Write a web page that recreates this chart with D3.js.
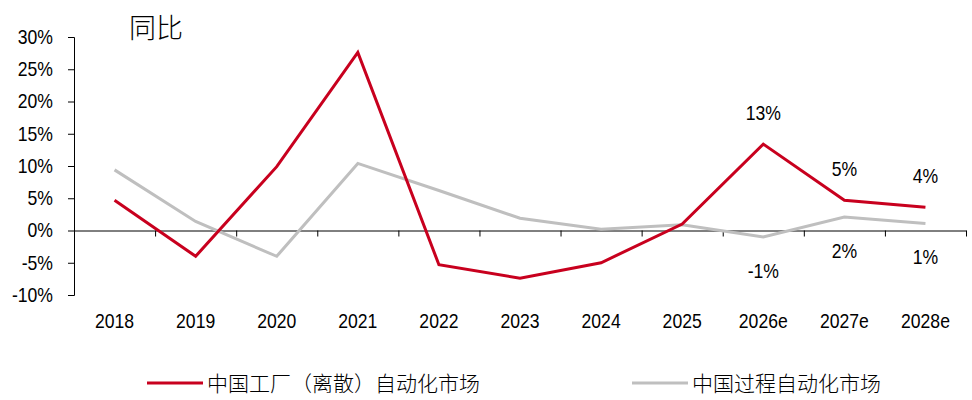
<!DOCTYPE html>
<html>
<head>
<meta charset="utf-8">
<script src="https://cdn.jsdelivr.net/npm/d3@7"></script>
<style>
  body { margin: 0; background: #fff; }
  svg text { fill: #000; }
  .num { font-family: "Liberation Sans", Arial, sans-serif; font-size: 20px; }
  .cjk { font-family: "Noto Sans CJK SC", "Noto Sans", sans-serif; }
</style>
</head>
<body>
<svg id="chart" width="972" height="400"></svg>
<script>
const categories = ['2018', '2019', '2020', '2021', '2022', '2023', '2024', '2025', '2026e', '2027e', '2028e'];
const factoryValues = [4.7, -4.0, 9.9, 27.6, -5.3, -7.4, -5.0, 1.0, 13.4, 4.7, 3.6];
const processValues = [9.4, 1.4, -4.0, 10.4, 6.2, 1.9, 0.2, 0.9, -1.0, 2.1, 1.1];
const yTicks = [-10, -5, 0, 5, 10, 15, 20, 25, 30];
const seriesNames = ['中国工厂（离散）自动化市场', '中国过程自动化市场'];
// labels only on the forecast years
const factoryLabels = ['', '', '', '', '', '', '', '', '13%', '5%', '4%'];
const processLabels = ['', '', '', '', '', '', '', '', '-1%', '2%', '1%'];

const colors = ['#C8001E', '#BFBFBF'];
const plotLeft = 74, plotRight = 966, plotTop = 37, plotBottom = 295;
const narrow = 0.88; // reference uses a condensed face, none installed

const svg = d3.select('#chart');

const x = d3.scaleBand()
  .domain(categories)
  .range([plotLeft, plotRight])
  .padding(0);
const y = d3.scaleLinear()
  .domain([-10, 30])
  .range([plotBottom, plotTop]);
const cx = (c) => x(c) + x.bandwidth() / 2;

// squeeze text horizontally around its anchor point
function squeeze(sel) {
  sel.each(function () {
    const t = d3.select(this);
    const tx = +t.attr('x') || 0;
    const ty = +t.attr('y') || 0;
    t.attr('x', 0).attr('y', 0)
      .attr('transform', `translate(${tx},${ty}) scale(${narrow},1)`);
  });
}

// title
svg.append('text')
  .attr('class', 'cjk')
  .attr('x', 129)
  .attr('y', 38)
  .attr('font-size', 27)
  .attr('font-weight', 300)
  .text('同比');

// y axis
const yAxis = svg.append('g')
  .attr('transform', `translate(${plotLeft},0)`)
  .call(d3.axisLeft(y).tickValues(yTicks).tickFormat(d => d + '%').tickSize(6).tickPadding(15));
yAxis.attr('font-size', null).attr('font-family', null);
yAxis.selectAll('text').attr('class', 'num').call(squeeze);
yAxis.selectAll('path, line').attr('stroke', '#000');

// x axis along zero, ticks on band edges
const xEdge = d3.scaleLinear().domain([0, categories.length]).range([plotLeft, plotRight]);
const xAxis = svg.append('g')
  .attr('transform', `translate(0,${y(0)})`)
  .call(d3.axisBottom(xEdge).tickValues(d3.range(1, categories.length + 1)).tickFormat('').tickSize(6).tickSizeOuter(0));
xAxis.selectAll('path, line').attr('stroke', '#000');

// category labels below the plot
const xLabels = svg.append('g')
  .attr('transform', 'translate(0,311)')
  .call(d3.axisBottom(x).tickSize(0).tickPadding(3));
xLabels.select('.domain').remove();
xLabels.attr('font-size', null).attr('font-family', null);
xLabels.selectAll('text').attr('class', 'num').call(squeeze);

// lines
const line = (vals) => d3.line()
  .x((d, i) => cx(categories[i]))
  .y(d => y(d))(vals);

svg.append('path')
  .attr('d', line(processValues))
  .attr('fill', 'none')
  .attr('stroke', colors[1])
  .attr('stroke-width', 3);
svg.append('path')
  .attr('d', line(factoryValues))
  .attr('fill', 'none')
  .attr('stroke', colors[0])
  .attr('stroke-width', 3);

// data labels
svg.selectAll('.lab-f')
  .data(factoryLabels)
  .join('text')
  .attr('class', 'num')
  .attr('text-anchor', 'middle')
  .attr('x', (d, i) => cx(categories[i]))
  .attr('y', (d, i) => y(factoryValues[i]) - 24)
  .text(d => d)
  .call(squeeze);
svg.selectAll('.lab-p')
  .data(processLabels)
  .join('text')
  .attr('class', 'num')
  .attr('text-anchor', 'middle')
  .attr('x', (d, i) => cx(categories[i]))
  .attr('y', (d, i) => y(processValues[i]) + 41)
  .text(d => d)
  .call(squeeze);

// legend
const legendX = [147, 632];
seriesNames.forEach((name, i) => {
  const g = svg.append('g').attr('transform', `translate(${legendX[i]},383)`);
  g.append('line')
    .attr('x1', 0).attr('x2', 56)
    .attr('y1', 0).attr('y2', 0)
    .attr('stroke', colors[i])
    .attr('stroke-width', 3);
  g.append('text')
    .attr('class', 'cjk')
    .attr('x', 60)
    .attr('y', 8)
    .attr('font-size', 21)
    .attr('font-weight', 300)
    .text(name);
});
</script>
</body>
</html>
